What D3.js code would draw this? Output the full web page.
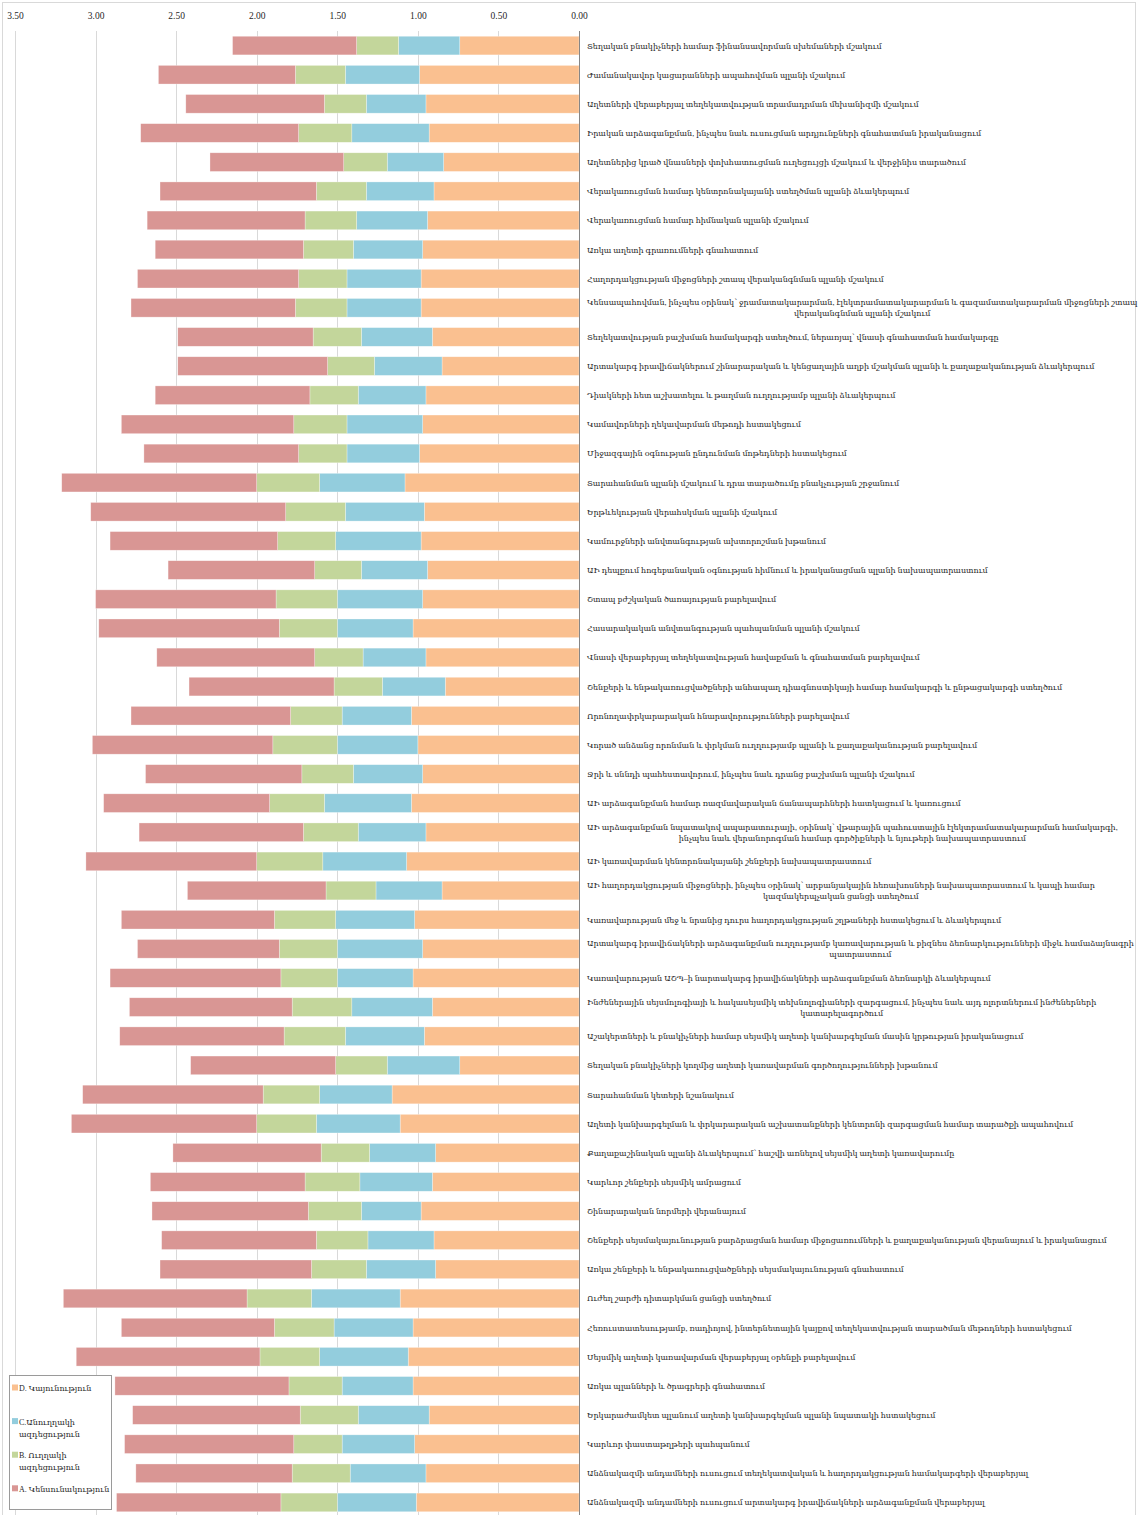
<!DOCTYPE html>
<html>
<head>
<meta charset="utf-8">
<script src="https://cdn.jsdelivr.net/npm/d3@7"></script>
<style>
  body { margin: 0; background: #fff; }
  text { font-family: "Liberation Serif", "DejaVu Serif", serif; fill: #1f1f1f; }
</style>
</head>
<body>
<svg id="chart" width="1138" height="1515"></svg>
<script>
// row labels, top to bottom ("\n" = where the reference wraps)
var categories = [
  "Տեղական բնակիչների համար ֆինանսավորման սխեմաների մշակում",
  "Ժամանակավոր կացարանների ապահովման պլանի մշակում",
  "Աղետների վերաբերյալ տեղեկատվության տրամադրման մեխանիզմի մշակում",
  "Իրական արձագանքման, ինչպես նաև ուսուցման արդյունքների գնահատման իրականացում",
  "Աղետներից կրած վնասների փոխհատուցման ուղեցույցի մշակում և վերջինիս տարածում",
  "Վերակառուցման համար կենտրոնակայանի ստեղծման պլանի ձևակերպում",
  "Վերակառուցման համար հիմնական պլանի մշակում",
  "Առկա աղետի գրառումների գնահատում",
  "Հաղորդակցության միջոցների շտապ վերականգնման պլանի մշակում",
  "Կենսապահովման, ինչպես օրինակ՝ ջրամատակարարման, էլեկտրամատակարարման և գազամատակարարման միջոցների շտապ\nվերականգնման պլանի մշակում",
  "Տեղեկատվության բաշխման համակարգի ստեղծում, ներառյալ՝ վնասի գնահատման համակարգը",
  "Արտակարգ իրավիճակներում շինարարական և կենցաղային աղբի մշակման պլանի և քաղաքականության ձևակերպում",
  "Դիակների հետ աշխատելու և թաղման ուղղությամբ պլանի ձևակերպում",
  "Կամավորների ղեկավարման մեթոդի հստակեցում",
  "Միջազգային օգնության ընդունման մոթեդների հստակեցում",
  "Տարահանման պլանի մշակում և դրա տարածումը բնակչության շրջանում",
  "Երթևեկության վերահսկման պլանի մշակում",
  "Կամուրջների անվտանգության ախտորոշման խթանում",
  "ԱԻ դեպքում հոգեբանական օգնության հիմնում և իրականացման պլանի նախապատրաստում",
  "Շտապ բժշկական ծառայության բարելավում",
  "Հասարակական անվտանգության պահպանման պլանի մշակում",
  "Վնասի վերաբերյալ տեղեկատվության հավաքման և գնահատման բարելավում",
  "Շենքերի և ենթակառուցվածքների անհապաղ դիագնոստիկայի համար համակարգի և ընթացակարգի ստեղծում",
  "Որոնողափրկարարական հնարավորությունների բարելավում",
  "Կորած անձանց որոնման և փրկման ուղղությամբ պլանի և քաղաքականության բարելավում",
  "Ջրի և սննդի պահեստավորում, ինչպես նաև դրանց բաշխման պլանի մշակում",
  "ԱԻ արձագանքման համար ռազմավարական ճանապարհների հատկացում և կառուցում",
  "ԱԻ արձագանքման նպատակով ապարատուրայի, օրինակ՝ վթարային պահուստային էլեկտրամատակարարման համակարգի,\nինչպես նաև վերանորոգման համար գործիքների և նյութերի նախապատրաստում",
  "ԱԻ կառավարման կենտրոնակայանի շենքերի նախապատրաստում",
  "ԱԻ հաղորդակցության միջոցների, ինչպես օրինակ՝ արբանյակային հեռախոսների նախապատրաստում և կապի համար\nկազմակերպչական ցանցի ստեղծում",
  "Կառավարության մեջ և նրանից դուրս հաղորդակցության շղթաների հստակեցում և ձևակերպում",
  "Արտակարգ իրավիճակների արձագանքման ուղղությամբ կառավարության և բիզնես ձեռնարկությունների միջև համաձայնագրի\nպատրաստում",
  "Կառավարության ԱՇՊ–ի նարտակարգ իրավիճակների արձագանքման ձեռնարկի ձևակերպում",
  "Ինժեներային սեյսմոլոգիայի և հակասեյսմիկ տեխնոլոգիաների զարգացում, ինչպես նաև այդ ոլորտներում ինժեներների\nկատարելագործում",
  "Աշակերտների և բնակիչների համար սեյսմիկ աղետի կանխարգելման մասին կրթության իրականացում",
  "Տեղական բնակիչների կողմից աղետի կառավարման գործողությունների խթանում",
  "Տարահանման կետերի նշանակում",
  "Աղետի կանխարգելման և փրկարարական աշխատանքների կենտրոնի զարգացման համար տարածքի ապահովում",
  "Քաղաքաշինական պլանի ձևակերպում՝ հաշվի առնելով սեյսմիկ աղետի կառավարումը",
  "Կարևոր շենքերի սեյսմիկ ամրացում",
  "Շինարարական նորմերի վերանայում",
  "Շենքերի սեյսմակայունության բարձրացման համար միջոցառումների և քաղաքականության վերանայում և իրականացում",
  "Առկա շենքերի և ենթակառուցվածքների սեյսմակայունության գնահատում",
  "Ուժեղ շարժի դիտարկման ցանցի ստեղծում",
  "Հեռուստատեսությամբ, ռադիոյով, ինտերնետային կայքով տեղեկատվության տարածման մեթոդների հստակեցում",
  "Սեյսմիկ աղետի կառավարման վերաբերյալ օրենքի բարելավում",
  "Առկա պլանների և ծրագրերի գնահատում",
  "Երկարաժամկետ պլանում աղետի կանխարգելման պլանի նպատակի հստակեցում",
  "Կարևոր փաստաթղթերի պահպանում",
  "Անձնակազմի անդամների ուսուցում տեղեկատվական և հաղորդակցության համակարգերի վերաբերյալ",
  "Անձնակազմի անդամների ուսուցում արտակարգ իրավիճակների արձագանքման վերաբերյալ"
];

// series, same order as categories
var valuesD = [0.74, 0.99, 0.95, 0.93, 0.84, 0.90, 0.94, 0.97, 0.98, 0.98,
               0.91, 0.85, 0.95, 0.97, 0.99, 1.08, 0.96, 0.98, 0.94, 0.97,
               1.03, 0.95, 0.83, 1.04, 1.00, 0.97, 1.04, 0.95, 1.07, 0.85,
               1.02, 0.97, 1.03, 0.91, 0.96, 0.74, 1.16, 1.11, 0.89, 0.91,
               0.98, 0.90, 0.89, 1.11, 1.03, 1.06, 1.03, 0.93, 1.02, 0.95, 1.01];
var valuesC = [0.38, 0.46, 0.37, 0.48, 0.35, 0.42, 0.44, 0.43, 0.46, 0.46,
               0.44, 0.42, 0.42, 0.47, 0.45, 0.53, 0.49, 0.53, 0.41, 0.53,
               0.47, 0.39, 0.39, 0.43, 0.50, 0.43, 0.54, 0.42, 0.52, 0.41,
               0.49, 0.53, 0.47, 0.50, 0.49, 0.45, 0.45, 0.52, 0.41, 0.45,
               0.37, 0.41, 0.43, 0.55, 0.49, 0.55, 0.44, 0.44, 0.45, 0.47, 0.49];
var valuesB = [0.26, 0.31, 0.26, 0.33, 0.27, 0.31, 0.32, 0.31, 0.30, 0.32,
               0.30, 0.29, 0.30, 0.33, 0.30, 0.39, 0.37, 0.36, 0.29, 0.38,
               0.36, 0.30, 0.30, 0.32, 0.40, 0.32, 0.34, 0.34, 0.41, 0.31,
               0.38, 0.36, 0.35, 0.37, 0.38, 0.32, 0.35, 0.37, 0.30, 0.34,
               0.33, 0.32, 0.34, 0.40, 0.37, 0.37, 0.33, 0.36, 0.30, 0.36, 0.35];
var valuesA = [0.77, 0.85, 0.86, 0.98, 0.83, 0.97, 0.98, 0.92, 1.00, 1.02,
               0.84, 0.93, 0.96, 1.07, 0.96, 1.21, 1.21, 1.04, 0.91, 1.12,
               1.12, 0.98, 0.90, 0.99, 1.12, 0.97, 1.03, 1.02, 1.06, 0.86,
               0.95, 0.88, 1.06, 1.01, 1.02, 0.90, 1.12, 1.15, 0.92, 0.96,
               0.97, 0.96, 0.94, 1.14, 0.95, 1.14, 1.08, 1.04, 1.05, 0.97, 1.02];

var seriesKeys = ["D", "C", "B", "A"];
var seriesColors = {"D": "#fac090", "C": "#93cddd", "B": "#c3d69b", "A": "#d99694"};
var legendLabels = [["D. Կայունություն"], ["C.Անուղղակի", "ազդեցություն"],
                    ["B. Ուղղակի", "ազդեցություն"], ["A. Կենսունակություն"]];
var tickValues = [0, 0.5, 1, 1.5, 2, 2.5, 3, 3.5];

var width = 1138, height = 1515;
var plot = {"left": 15, "right": 579, "top": 31, "bottom": 1517};

var rows = categories.map(function(c, i) {
  return {name: c, A: valuesA[i], B: valuesB[i], C: valuesC[i], D: valuesD[i]};
});

var svg = d3.select("#chart");

// outer frame
svg.append("rect")
   .attr("x", 2.5).attr("y", 2.5)
   .attr("width", width - 5).attr("height", height + 10)
   .attr("fill", "none").attr("stroke", "#d9d9d9");

// reversed axis: 0 on the right
var xScale = d3.scaleLinear().domain([0, 3.5]).range([plot.right, plot.left]);
var yScale = d3.scaleBand()
               .domain(d3.range(rows.length))
               .range([plot.top, plot.bottom])
               .paddingInner(0.36)
               .paddingOuter(0.18);

// gridlines
svg.append("g").selectAll("line")
   .data(tickValues.filter(function(d) { return d > 0; }))
   .enter().append("line")
   .attr("x1", function(d) { return Math.round(xScale(d)) + 0.5; })
   .attr("x2", function(d) { return Math.round(xScale(d)) + 0.5; })
   .attr("y1", plot.top).attr("y2", height)
   .attr("stroke", "#d9d9d9");

var xAxis = d3.axisTop(xScale)
              .tickValues(tickValues)
              .tickSize(0)
              .tickPadding(6)
              .tickFormat(d3.format(".2f"));

var axisG = svg.append("g")
               .attr("transform", "translate(0," + 25 + ")")
               .call(xAxis);
axisG.select(".domain").remove();
axisG.selectAll("text").attr("font-size", 9.5).attr("fill", "#404040")
     .style("font-family", "'Liberation Serif', serif");

// stacked bars
var stacked = d3.stack().keys(seriesKeys)(rows);

var layers = svg.append("g").selectAll("g")
                .data(stacked)
                .enter().append("g")
                .attr("fill", function(d) { return seriesColors[d.key]; });

layers.selectAll("rect")
      .data(function(d) { return d; })
      .enter().append("rect")
      .attr("x", function(d) { return xScale(d[1]); })
      .attr("width", function(d) { return xScale(d[0]) - xScale(d[1]); })
      .attr("y", function(d, i) { return yScale(i); })
      .attr("height", yScale.bandwidth())
      .attr("stroke", "#ffffff")
      .attr("stroke-opacity", 0.5)
      .attr("stroke-width", 0.6);

// vertical axis line at 0
svg.append("line")
   .attr("x1", plot.right + 0.5).attr("x2", plot.right + 0.5)
   .attr("y1", plot.top).attr("y2", height)
   .attr("stroke", "#868686");

// category labels to the right of the axis
var labelX = 587;
var labelG = svg.append("g");
rows.forEach(function(r, i) {
  var lines = r.name.split("\n");
  var cy = yScale(i) + yScale.bandwidth() / 2;
  var t = labelG.append("text")
                .attr("font-size", 8)
                .attr("dominant-baseline", "central");
  lines.forEach(function(line, j) {
    t.append("tspan")
     .attr("x", labelX)
     .attr("y", cy + (j - (lines.length - 1) / 2) * 11)
     .text(line);
  });
  // wrapped labels: centre the shorter lines under the first one
  if (lines.length > 1) {
    var spans = t.selectAll("tspan").nodes();
    var w0 = spans[0].getComputedTextLength();
    spans.forEach(function(s) {
      var w = s.getComputedTextLength();
      d3.select(s).attr("x", labelX + (w0 - w) / 2);
    });
  }
});

// legend
var legend = svg.append("g");
legend.append("rect")
      .attr("x", 9.5).attr("y", 1375.5)
      .attr("width", 102).attr("height", 134)
      .attr("fill", "#fff").attr("stroke", "#9a9a9a");

legendLabels.forEach(function(lines, i) {
  var key = seriesKeys[i];
  var y0 = 1388 + i * 33.6;
  legend.append("rect")
        .attr("x", 12).attr("y", y0 - 3.5)
        .attr("width", 6).attr("height", 6)
        .attr("fill", seriesColors[key]);
  var t = legend.append("text")
                .attr("font-size", 8)
                .attr("dominant-baseline", "central");
  lines.forEach(function(line, j) {
    t.append("tspan")
     .attr("x", 19)
     .attr("y", y0 + j * 12)
     .text(line);
  });
});
</script>
</body>
</html>
